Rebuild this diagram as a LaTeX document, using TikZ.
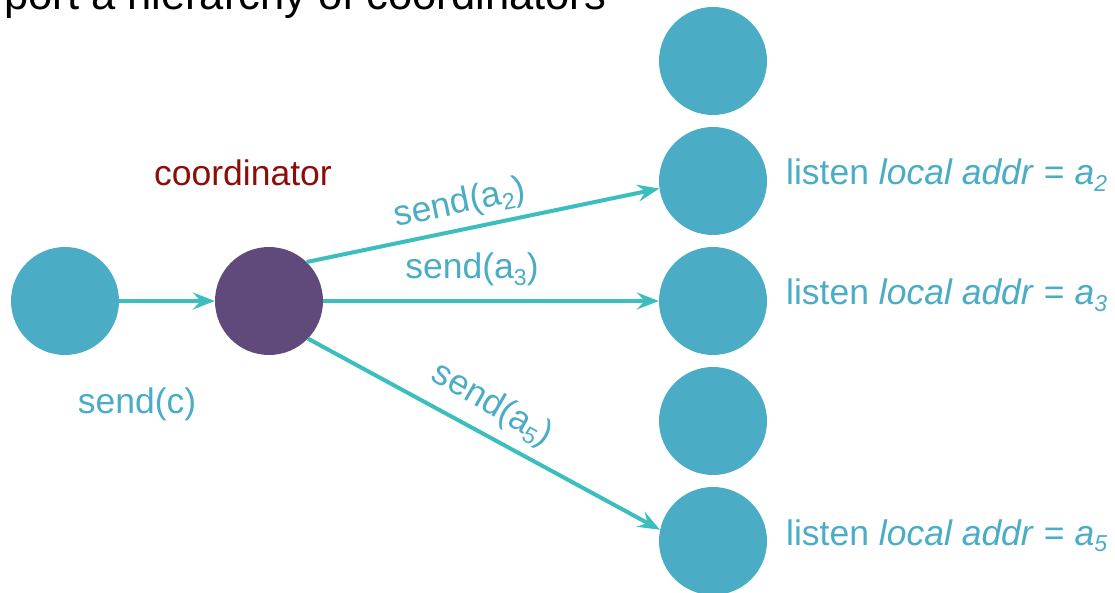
\documentclass[tikz,border=0pt]{standalone}
\usepackage{fontspec}
\setmainfont{Liberation Sans}
\usetikzlibrary{arrows.meta}
\definecolor{aqua}{HTML}{4BACC6}
\definecolor{plum}{HTML}{604A7B}
\definecolor{wire}{HTML}{3CBEBE}
\definecolor{maroon}{HTML}{8A0F0B}
\newcommand\subs[1]{\raisebox{-0.35ex}{\fontsize{23}{23}\selectfont #1}}
\begin{document}
\begin{tikzpicture}[x=1pt,y=-1pt,
  bubble/.style={circle, inner sep=0pt, minimum size=108pt},
  leaf/.style={bubble, fill=aqua},
  msg/.style={draw=wire, line width=4pt, -{Stealth[length=22pt,width=17pt,inset=8pt]}},
  lbl/.style={text=aqua, inner sep=0pt, font=\fontsize{35.5}{36}\selectfont}]
\useasboundingbox (0,0) rectangle (1115,593);
\clip (0,0) rectangle (1115,593);

% heading line, cut by the top edge
\node[anchor=base west, inner sep=0pt, font=\fontsize{43.5}{44}\selectfont] (head) at (4,10) {port a hierarchy of coordinators};

% sender and coordinator
\node[leaf] (src) at (65,301) {};
\node[bubble, fill=plum] (coord) at (269,301) {};

% listeners
\node[leaf] (r1) at (713,61) {};
\node[leaf] (r2) at (713,181) {};
\node[leaf] (r3) at (713,301) {};
\node[leaf] (r4) at (713,421) {};
\node[leaf] (r5) at (713,541) {};

% messages
\draw[msg] (src) -- (coord);
\draw[msg] (coord.46) -- (r2.188);
\draw[msg] (coord) -- (r3);
\draw[msg] (coord.-44) -- (r5.168);

% labels
\node[lbl, anchor=base] (lc) at (137,413) {send(c)};
\node[lbl, anchor=base, text=maroon] (lco) at (243,186) {coordinator};
\node[lbl, rotate=12] (l2) at (460,204) {send(a\subs{2})};
\node[lbl, anchor=base] (l3) at (472,279) {send(a\subs{3})};
\node[lbl, rotate=-30] (l5) at (492,405) {send(a\subs{5})};

\node[lbl, anchor=base west] (t2) at (786,185) {listen \textit{local addr} = \textit{a\subs{2}}};
\node[lbl, anchor=base west] (t3) at (786,305) {listen \textit{local addr} = \textit{a\subs{3}}};
\node[lbl, anchor=base west] (t5) at (786,545) {listen \textit{local addr} = \textit{a\subs{5}}};
\end{tikzpicture}
\end{document}
